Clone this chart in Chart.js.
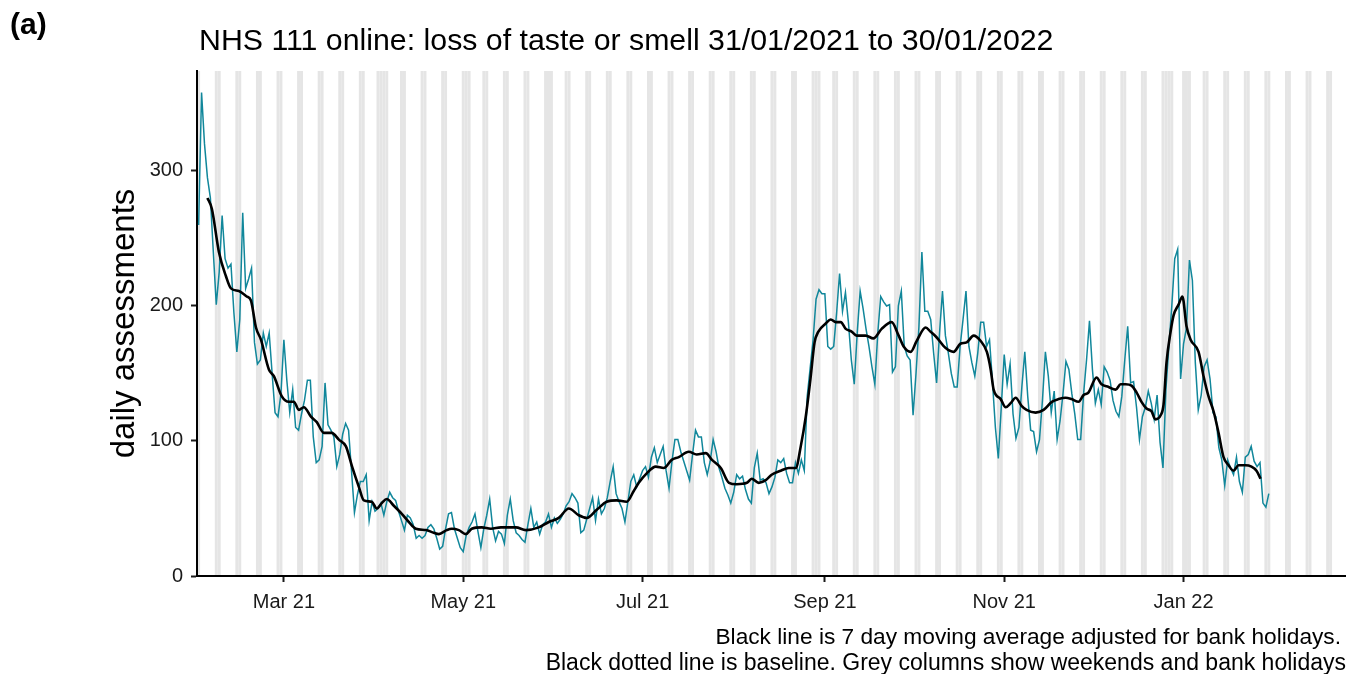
<!DOCTYPE html>
<html>
<head>
<meta charset="utf-8">
<title>NHS 111 online: loss of taste or smell</title>
<script src="https://cdn.jsdelivr.net/npm/chart.js@4.4.1/dist/chart.umd.min.js"></script>
<style>
  html, body { margin: 0; padding: 0; background: #ffffff; }
  #wrap { width: 1346px; height: 674px; }
</style>
</head>
<body>
<div id="wrap"><canvas id="chart" width="1346" height="674"></canvas></div>
<script>
// daily assessments, one value per day, day 0 = Sun 31/01/2021, one row per week (Sun..Sat)
const dailyAssessments = [
  260, 358, 320, 295, 280, 240, 201,
  225, 267, 235, 228, 231, 195, 166,
  190, 269, 213, 220, 228, 173, 157,
  160, 180, 170, 180, 150, 121, 118,
  135, 175, 145, 121, 138, 110, 108,
  120, 130, 145, 145, 103, 84, 86,
  96, 143, 112, 108, 103, 81, 90,
  105, 113, 108, 78, 47, 60, 70,
  70, 75, 41, 55, 48, 50, 54,
  45, 55, 62, 58, 56, 48, 41,
  34, 45, 43, 38, 28, 30, 28,
  30, 36, 38, 35, 28, 20, 22,
  35, 46, 47, 35, 28, 21, 18,
  30, 36, 40, 46, 33, 21, 35,
  45, 57, 36, 26, 33, 31, 24,
  45, 57, 41, 32, 30, 27, 25,
  38, 50, 36, 40, 31, 38, 40,
  46, 36, 43, 39, 42, 46, 52,
  55, 61, 58, 54, 32, 34, 42,
  50, 58, 41, 57, 46, 50, 58,
  70, 81, 61, 55, 50, 40, 55,
  70, 75, 66, 72, 78, 81, 73,
  88, 95, 84, 90, 96, 78, 65,
  85, 101, 101, 92, 85, 78, 71,
  90, 108, 103, 103, 84, 75, 85,
  101, 92, 80, 73, 65, 60, 54,
  62, 75, 72, 74, 64, 57, 54,
  80, 91, 71, 72, 69, 61, 66,
  73, 86, 84, 87, 76, 69, 69,
  84, 76, 86, 78, 133, 154, 175,
  205, 212, 209, 209, 170, 168, 170,
  195, 224, 196, 210, 188, 160, 142,
  180, 211, 198, 183, 170, 155, 142,
  180, 207, 203, 200, 201, 151, 155,
  200, 211, 170, 163, 160, 119, 150,
  185, 240, 196, 196, 190, 165, 143,
  180, 211, 178, 165, 150, 140, 140,
  170, 190, 211, 170, 158, 148, 165,
  188, 188, 170, 175, 144, 110, 87,
  125, 164, 142, 157, 120, 102, 110,
  140, 166, 133, 108, 107, 92, 101,
  130, 166, 148, 121, 137, 101, 115,
  135, 159, 153, 135, 120, 101, 101,
  135, 160, 189, 153, 128, 138, 127,
  155, 151, 145, 130, 122, 118, 133,
  160, 185, 143, 144, 125, 101, 118,
  125, 137, 128, 116, 134, 99, 80,
  138, 170, 200, 235, 242, 146, 172,
  184, 234, 219, 158, 123, 134, 155,
  160, 146, 121, 118, 95, 86, 67,
  86, 80, 75, 88, 70, 62, 88,
  90, 96, 85, 81, 84, 54, 51,
  61
];

// black line (7 day moving average): day number and value
const maDays = [
  3, 4.5, 6.9, 9.3, 11, 13.7, 16.4, 17.8, 19.5, 21.2, 23.9, 25.6, 28.3, 30.7, 32.4, 34.1,
  35.8, 38.2, 40.2, 42.6, 45.3, 47.7, 50.1, 52.2, 54.5, 56.2, 58.9, 60.6, 62.3, 64, 66.4,
  69.1, 71.5, 73.9, 77.3, 80, 81.7, 84.4, 86.1, 88.5, 90.9, 92.9, 96.3, 99.4, 102.8, 107.9,
  111.3, 115.7, 119.1, 122.5, 125.9, 129.3, 132, 135.4, 138.8, 142.2, 145.6, 148, 149.7,
  152.4, 155.5, 158.2, 160.9, 163.3, 166.7, 169.4, 172.5, 174.6, 177.6, 180.4, 183, 186.5,
  188.1, 190.5, 192.9, 194.9, 198, 200.7, 203.1, 204.8, 206.5, 208.1, 209.5, 210.8, 213.3,
  215, 216.7, 218.4, 220.1, 222.1, 223.8, 226.9, 229.5, 232.3, 235.7, 238.1, 239.8, 242.2,
  244.2, 247.3, 248.9, 250.9, 254, 256.8, 259.1, 261.2, 263.6, 266, 268.1, 269.4, 270.4,
  272.8, 274.5, 276.2, 277.9, 279.9, 281.6, 284.7, 287.4, 290.2, 292.5, 294.9, 296.9, 299.3,
  301, 302.7, 305.4, 307.1, 309.5, 311.9, 313.6, 315.3, 317.3, 319, 320.7, 322.4, 324.1,
  325.4, 327.2, 328.2, 329.2, 330.6, 331.6, 333.3, 334.6, 336, 337.4, 340.1, 341.8, 343.5,
  345.2, 346.9, 348.6, 350.3, 352, 353.7, 356, 358.1, 359.8, 361.2
];
const maValues = [
  280, 272, 240, 222, 213, 211, 207, 204, 184, 175, 153, 148, 133, 129, 129, 123,
  125, 118, 114, 106, 106, 101, 96, 81, 66, 56, 55, 50, 54, 57, 52,
  46, 40, 35, 34, 32, 31, 34, 35, 34, 31, 35, 36, 35, 36, 36,
  34, 36, 40, 43, 50, 45, 43, 49, 55, 56, 55, 63, 69,
  76, 81, 80, 86, 88, 92, 90, 91, 86, 80, 69, 68, 69,
  72, 69, 71, 75, 78, 80, 80, 96, 118, 146, 173, 181, 187,
  190, 188, 188, 183, 181, 178, 178, 176, 183, 188, 178, 170, 166,
  174, 184, 181, 177, 169, 166, 172, 173, 178, 174, 166, 153, 138,
  131, 125, 128, 132, 126, 123, 121, 123, 129, 131, 132, 131, 129,
  134, 136, 147, 142, 140, 138, 142, 142, 141, 136, 129, 124, 122,
  116, 119, 127, 158, 181, 193, 201, 207, 185, 175, 166, 148, 133,
  122, 106, 88, 82, 78, 82, 82, 81, 78, 72
];

// bank holidays as day numbers (Good Fri, Easter Mon, May, Spring, Aug, Christmas, New Year)
const bankHolidays = [61, 64, 92, 120, 211, 330, 331, 337];
const lastShadedDay = 385;

const tickDays = [29, 90, 151, 213, 274, 335];
const tickLabels = ['Mar 21', 'May 21', 'Jul 21', 'Sep 21', 'Nov 21', 'Jan 22'];
const yTicks = [0, 100, 200, 300];

const FONT = '"Liberation Sans", Arial, Helvetica, sans-serif';
Chart.defaults.font.family = FONT;

// grey columns for weekends and bank holidays, drawn first so the axes sit on top
const shadedColumns = {
  id: 'shadedColumns',
  beforeDraw(chart) {
    const {ctx, chartArea, scales: {x}} = chart;
    ctx.save();
    ctx.fillStyle = '#e5e5e5';
    for (let d = 0; d <= lastShadedDay; d++) {
      const weekend = d % 7 === 0 || d % 7 === 6;
      if (!weekend && !bankHolidays.includes(d)) continue;
      const x0 = Math.max(x.getPixelForValue(d - 0.5), chartArea.left);
      const x1 = Math.min(x.getPixelForValue(d + 0.5), chartArea.right);
      ctx.fillRect(x0, chartArea.top, x1 - x0, chartArea.bottom - chartArea.top);
    }
    ctx.restore();
  }
};

// panel letter, title and caption
const textBits = {
  id: 'textBits',
  afterDraw(chart) {
    const ctx = chart.ctx;
    ctx.save();
    ctx.fillStyle = '#000';
    ctx.textBaseline = 'alphabetic';
    ctx.textAlign = 'left';
    ctx.font = 'bold 30px ' + FONT;
    ctx.fillText('(a)', 10, 34);
    ctx.font = '30.3px ' + FONT;
    ctx.fillText('NHS 111 online: loss of taste or smell 31/01/2021 to 30/01/2022', 199, 50);
    ctx.textAlign = 'right';
    ctx.font = '22.7px ' + FONT;
    ctx.fillText('Black line is 7 day moving average adjusted for bank holidays.', 1341, 644);
    ctx.font = '23px ' + FONT;
    ctx.fillText('Black dotted line is baseline. Grey columns show weekends and bank holidays', 1346, 670);
    ctx.restore();
  }
};

new Chart(document.getElementById('chart'), {
  type: 'line',
  data: {
    datasets: [
      {
        label: 'daily assessments',
        data: dailyAssessments.map((v, i) => ({x: i, y: v})),
        borderColor: '#11879b',
        borderWidth: 1.5,
        pointRadius: 0,
        tension: 0,
        order: 2
      },
      {
        label: '7 day moving average',
        data: maDays.map((d, i) => ({x: d, y: maValues[i]})),
        borderColor: '#000000',
        borderWidth: 2.6,
        pointRadius: 0,
        cubicInterpolationMode: 'monotone',
        order: 1
      }
    ]
  },
  options: {
    responsive: false,
    animation: false,
    layout: { padding: { top: 71, right: 0, bottom: 0, left: 0 } },
    plugins: {
      legend: { display: false },
      tooltip: { enabled: false }
    },
    scales: {
      x: {
        type: 'linear',
        min: -0.55,
        max: 390.25,
        afterFit(scale) { scale.height = 674 - 576; },
        afterBuildTicks(scale) { scale.ticks = tickDays.map(v => ({value: v})); },
        ticks: {
          autoSkip: false,
          maxRotation: 0,
          padding: 8,
          color: '#1a1a1a',
          font: { size: 20 },
          callback: (v, i) => tickLabels[i]
        },
        grid: { drawOnChartArea: false, drawTicks: true, tickLength: 6, tickColor: '#1a1a1a', tickWidth: 2 },
        border: { display: true, color: '#000', width: 2 }
      },
      y: {
        min: 0,
        max: 374,
        afterFit(scale) { scale.width = 197; },
        afterBuildTicks(scale) { scale.ticks = yTicks.map(v => ({value: v})); },
        ticks: {
          padding: 8,
          color: '#1a1a1a',
          font: { size: 20 }
        },
        grid: { drawOnChartArea: false, drawTicks: true, tickLength: 6, tickColor: '#1a1a1a', tickWidth: 2 },
        border: { display: true, color: '#000', width: 2 },
        title: {
          display: true,
          text: 'daily assessments',
          color: '#000',
          font: { size: 33 },
          padding: { top: 105, bottom: 0 }
        }
      }
    }
  },
  plugins: [shadedColumns, textBits]
});
</script>
</body>
</html>
